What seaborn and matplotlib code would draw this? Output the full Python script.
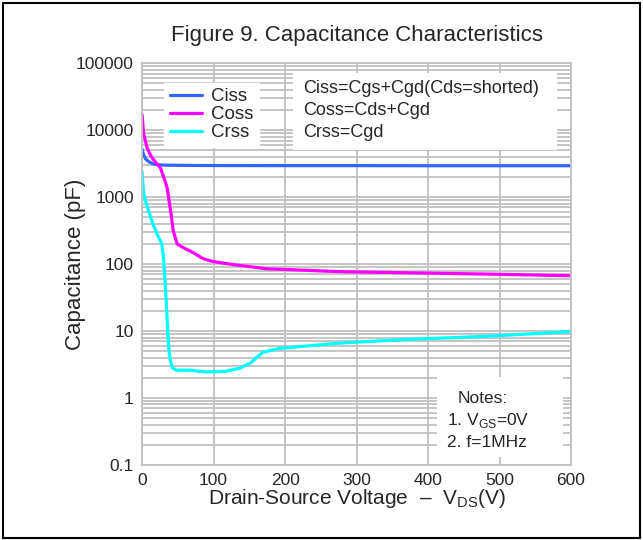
import numpy as np
import pandas as pd
import seaborn as sns
import matplotlib.pyplot as plt
from matplotlib.patches import Rectangle
from matplotlib.ticker import LogLocator, NullFormatter

sns.set_theme(style="white")
plt.rcParams["font.family"] = ["Liberation Sans", "DejaVu Sans"]
plt.rcParams["mathtext.fontset"] = "custom"
plt.rcParams["mathtext.rm"] = "Liberation Sans"

# values (V, pF)
ciss_v = [0, 2, 5, 10, 15, 21, 32, 53, 106, 200, 300, 400, 500, 600]
ciss_c = [5200, 4300, 3700, 3350, 3150, 3050, 3000, 2980, 2960, 2950, 2950, 2940, 2940, 2940]

coss_v = [0, 2, 7, 13, 19, 25.5, 32, 35, 37, 40.5, 43.5, 49, 58, 71, 85, 99, 128, 160, 174, 213, 276, 372, 478, 600]
coss_c = [17000, 9000, 5400, 4000, 3300, 2750, 1750, 1380, 1000, 560, 316, 200, 175, 149, 121, 109, 98, 89, 85, 82, 77, 74, 71, 67]

crss_v = [0, 1.6, 4.3, 8.5, 15, 21, 27.6, 30, 32, 34, 35, 37, 39.3, 42.5, 48, 67, 90, 117, 137, 151, 160, 169, 192, 276, 372, 478, 600]
crss_c = [2400, 1300, 900, 650, 400, 280, 200, 120, 57, 25, 14.5, 6, 3.7, 2.8, 2.6, 2.6, 2.45, 2.5, 2.8, 3.3, 4.0, 4.8, 5.5, 6.6, 7.5, 8.3, 9.8]

series_names = ["Ciss", "Coss", "Crss"]
colors = ["#3366ff", "#ff00ff", "#00ffff"]

df = pd.concat([
    pd.DataFrame({"vds": v, "cap": c, "series": name})
    for name, v, c in zip(series_names, [ciss_v, coss_v, crss_v], [ciss_c, coss_c, crss_c])
], ignore_index=True)

fig = plt.figure(figsize=(6.43, 5.40), dpi=100)
ax = fig.add_axes([0.221, 0.139, 0.667, 0.744])

sns.lineplot(data=df, x="vds", y="cap", hue="series", hue_order=series_names,
             palette=colors, linewidth=2.3, sort=False, estimator=None, ax=ax)

ax.set_yscale("log")
ax.set_ylim(0.1, 100000)
ax.set_xlim(0, 600)
ax.set_xticks(range(0, 601, 100))
ax.set_yticks([0.1, 1, 10, 100, 1000, 10000, 100000])
ax.set_yticklabels(["0.1", "1", "10", "100", "1000", "10000", "100000"])
ax.yaxis.set_minor_locator(LogLocator(base=10, subs=np.arange(2, 10)))
ax.yaxis.set_minor_formatter(NullFormatter())
ax.tick_params(which="both", length=0, labelsize=12.5, pad=6)
ax.grid(which="both", axis="y", color="#c0c0c0", linewidth=1.3)
ax.grid(which="major", axis="x", color="#c0c0c0", linewidth=1.3)
ax.set_axisbelow(True)
for s in ax.spines.values():
    s.set_color("#c0c0c0")
    s.set_linewidth(1.3)

ax.set_xlabel("Drain-Source Voltage  –  V$_{\\mathrm{DS}}$(V)", fontsize=15)
ax.xaxis.set_label_coords(0.5, -0.055)
ax.set_ylabel("Capacitance (pF)", fontsize=16)
ax.yaxis.set_label_coords(-0.13, 0.5)
fig.text(0.5545, 1 - 35 / 540, "Figure 9. Capacitance Characteristics",
         fontsize=16, ha="center", va="center")

leg = ax.legend(loc="upper left", bbox_to_anchor=(0.03, 0.975), fontsize=13.5,
                frameon=True, fancybox=False, framealpha=1, edgecolor="white",
                handlelength=1.7, labelspacing=0.05, borderpad=0.3, handletextpad=0.5)

# formula box
ax.add_patch(Rectangle((0.352, 0.784), 0.615, 0.191, transform=ax.transAxes,
                       facecolor="white", edgecolor="none", zorder=3))
formulas = ["Ciss=Cgs+Cgd(Cds=shorted)", "Coss=Cds+Cgd", "Crss=Cgd"]
for i, t in enumerate(formulas):
    ax.text(0.375, 0.938 - i * 0.055, t, transform=ax.transAxes, fontsize=13,
            va="center", ha="left", zorder=4)

# notes box
ax.add_patch(Rectangle((0.688, 0.02), 0.293, 0.2, transform=ax.transAxes,
                       facecolor="white", edgecolor="none", zorder=3))
notes = ["Notes:", "1. V$_{\\mathrm{GS}}$=0V", "2. f=1MHz"]
for i, t in enumerate(notes):
    ax.text(0.735 if i == 0 else 0.712, 0.165 - i * 0.054, t, transform=ax.transAxes,
            fontsize=12.5, va="center", ha="left", zorder=4)

fig.add_artist(Rectangle((0.004, 0.004), 0.991, 0.991, transform=fig.transFigure,
                         fill=False, edgecolor="black", linewidth=1.5))

fig.savefig("out.png", dpi=100)
